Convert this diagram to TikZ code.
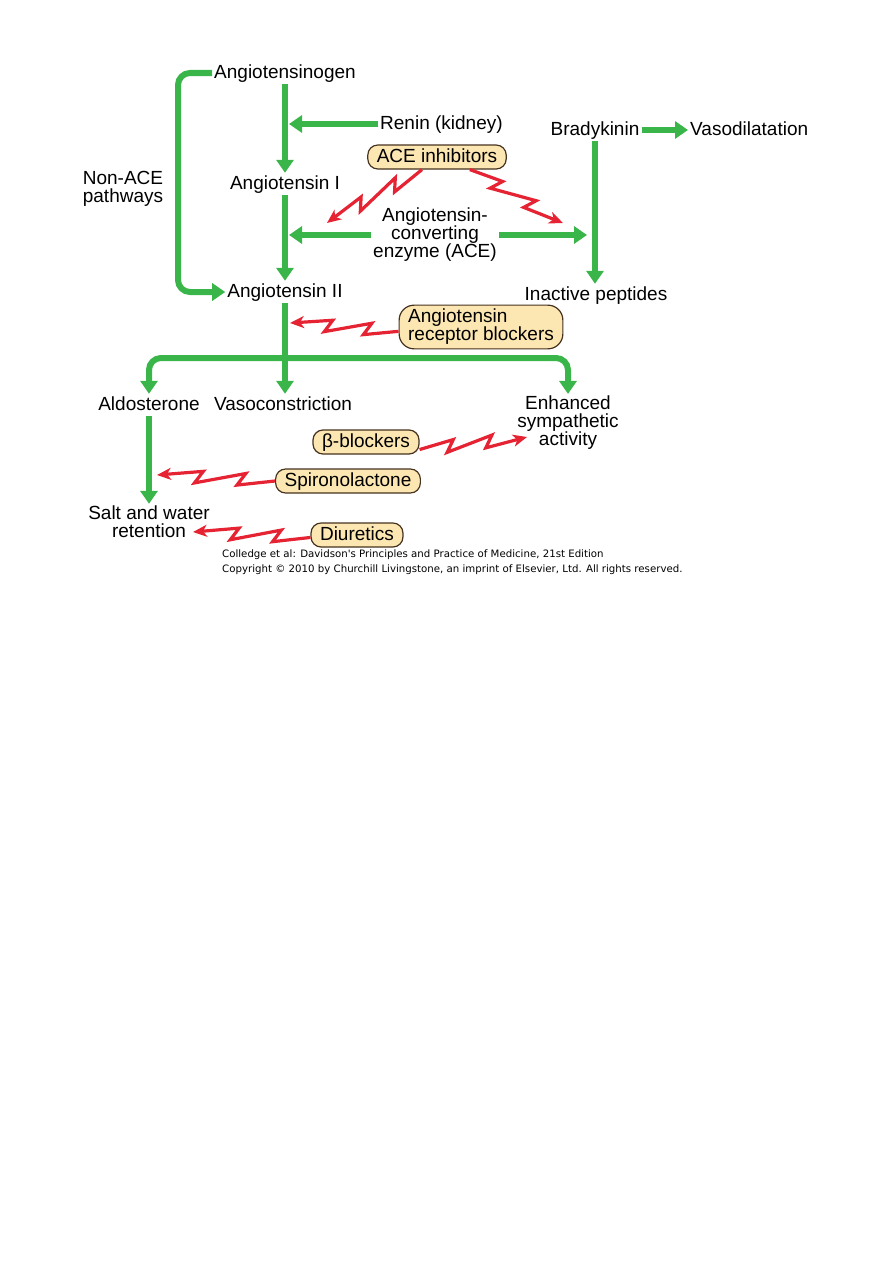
\documentclass[tikz,border=0pt]{standalone}
\usepackage{fontspec}
\setmainfont{Liberation Sans}
\newfontfamily\capfont{DejaVu Sans}
\usetikzlibrary{arrows.meta,calc}

\definecolor{rasgreen}{RGB}{58,181,74}
\definecolor{blockred}{RGB}{229,35,50}
\definecolor{drugfill}{RGB}{252,230,178}
\definecolor{drugline}{RGB}{70,50,30}

% lightning-shaped blocking arrow from #1 to #2
\newcommand{\bolt}[2]{%
	\draw[zap] (#1) -- ($(#1)!0.32!(#2)!6pt!90:(#2)$) -- ($(#1)!0.25!(#2)!-6pt!90:(#2)$)
		-- ($(#1)!0.68!(#2)!6pt!90:(#2)$) -- ($(#1)!0.61!(#2)!-6pt!90:(#2)$) -- (#2);}

\begin{document}
\begin{tikzpicture}[x=1pt,y=-1pt]
	\tikzstyle{every node}+=[inner sep=2pt]
	\tikzstyle{lbl}=[font=\fontsize{19}{18}\selectfont, text height=14pt, text depth=4pt]
	\tikzstyle{lbls}=[font=\fontsize{19}{18}\selectfont, align=center]
	\tikzstyle{pill}=[draw=drugline, fill=drugfill, line width=1.2pt, inner xsep=9pt, inner ysep=3pt, font=\fontsize{19}{18}\selectfont]
	\tikzstyle{drug}=[pill, rounded corners=10pt, text height=14pt, text depth=4pt]
	\tikzstyle{flow}=[draw=rasgreen, line width=6pt, -{Triangle[length=13pt,width=17pt]}]
	\tikzstyle{zap}=[draw=blockred, line width=3.2pt, line join=miter, miter limit=4, -{Stealth[length=14pt,width=12pt,inset=4pt]}]
	\useasboundingbox (0,0) rectangle (893,1263);

	% cascade
	\node[lbl] (agen) at (285,73) {Angiotensinogen};
	\node[lbl, anchor=west] (renin) at (378,124) {Renin (kidney)};
	\node[drug] (acei) at (437,157) {ACE inhibitors};
	\node[lbl] (ang1) at (285,184) {Angiotensin I};
	\node[lbls] (ace) at (435,235) {Angiotensin-\\converting\\enzyme (ACE)};
	\node[lbl] (ang2) at (285,292) {Angiotensin II};
	\node[lbls] (nonace) at (123,189) {Non-ACE\\pathways};
	\node[lbl] (brady) at (595,130) {Bradykinin};
	\node[lbl, anchor=west] (vasodil) at (688,130) {Vasodilatation};
	\node[lbl] (inact) at (596,295) {Inactive peptides};
	\node[pill, rounded corners=15pt, align=left, inner ysep=4pt] (arb) at (481,327) {Angiotensin\\receptor blockers};

	% effects
	\node[lbl] (aldo) at (149,405) {Aldosterone};
	\node[lbl] (vasoc) at (283,405) {Vasoconstriction};
	\node[lbls] (enh) at (568,423) {Enhanced\\sympathetic\\activity};
	\node[drug] (beta) at (366,442) {β-blockers};
	\node[drug] (spiro) at (348,481) {Spironolactone};
	\node[lbls] (salt) at (149,522) {Salt and water\\retention};
	\node[drug] (diur) at (357,535) {Diuretics};

	\node[font=\capfont\fontsize{10.2}{12}\selectfont, anchor=base west, inner sep=0pt] (cap1) at (222,557) {Colledge et al: Davidson's Principles and Practice of Medicine, 21st Edition};
	\node[font=\capfont\fontsize{10.2}{12}\selectfont, anchor=base west, inner sep=0pt] (cap2) at (222,572) {Copyright © 2010 by Churchill Livingstone, an imprint of Elsevier, Ltd. All rights reserved.};

	\coordinate (nabar) at (178,180);
	\coordinate (split) at (285,358);
	\coordinate (acetipl) at (327,223);
	\coordinate (acetipr) at (563,223);
	\coordinate (arbtip) at (290,323);
	\coordinate (betatip) at (527,437);
	\coordinate (spirotip) at (157,475);
	\coordinate (diurtip) at (193,532);

	% green pathways
	\draw[flow] (agen) -- (ang1);
	\draw[flow, shorten >=4pt] (renin) -- (renin -| ang1);
	\draw[flow] (ang1) -- (ang2);
	\draw[flow, shorten >=4pt] (ace) -- (ace -| ang1);
	\draw[flow, shorten >=8pt] (ace) -- (ace -| brady);
	\draw[flow, rounded corners=12pt] (agen) -| (nabar) |- (ang2);
	\draw[flow] (brady) -- (brady -| vasodil.west);
	\draw[flow] (brady) -- (brady |- inact.north);
	\draw[flow] (ang2) -- (ang2 |- vasoc.north);
	\draw[flow, rounded corners=12pt] (split) -| (aldo);
	\draw[flow, rounded corners=12pt] (split) -| (enh);
	\draw[flow] (aldo) -- (salt);

	% red blocking arrows
	\bolt{acei.220}{acetipl}
	\bolt{acei.339}{acetipr}
	\bolt{arb.183}{arbtip}
	\bolt{beta.352}{betatip}
	\bolt{spiro.west}{spirotip}
	\bolt{diur.183}{diurtip}
\end{tikzpicture}
\end{document}
